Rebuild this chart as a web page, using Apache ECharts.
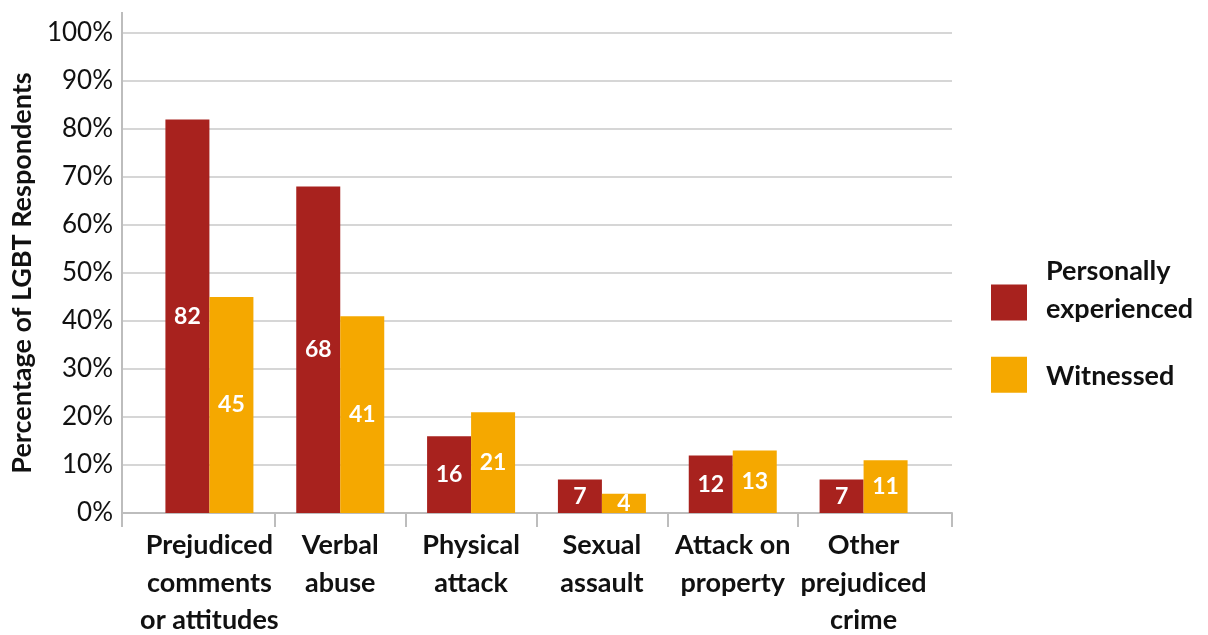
<!DOCTYPE html>
<html>
<head>
<meta charset="utf-8">
<script src="https://cdn.jsdelivr.net/npm/echarts@6/dist/echarts.min.js"></script>
<style>
html,body{margin:0;padding:0;background:#fff;}
#chart{width:1208px;height:635px;}
</style>
</head>
<body>
<div id="chart"></div>
<script>
const categories = ['Prejudiced\ncomments\nor attitudes', 'Verbal\nabuse', 'Physical\nattack', 'Sexual\nassault', 'Attack on\nproperty', 'Other\nprejudiced\ncrime'];
const personallyExperienced = [82, 68, 16, 7, 12, 7];
const witnessed = [45, 41, 21, 4, 13, 11];
const seriesNames = ['Personally\nexperienced', 'Witnessed'];
const yAxisName = 'Percentage of LGBT Respondents';

const FONT = 'Lato';
const AXIS_GRAY = '#bdbdbd';
// outer plot frame (axis lines, gridlines) and inner band area for categories
const outer = { left: 122, right: 256, top: 33, bottom: 122, outerBoundsMode: 'none', containLabel: false };
const inner = { left: 144, right: 279, top: 33, bottom: 122, outerBoundsMode: 'none', containLabel: false };
const W = 1208, H = 635;

const chart = echarts.init(document.getElementById('chart'));
const labelStyle = {
  show: true, position: 'inside', color: '#fff', fontFamily: FONT,
  fontWeight: 'bold', fontSize: 23
};
const legendRich = {
  a: { fontFamily: FONT, fontWeight: 'bold', fontSize: 27, color: '#111', lineHeight: 37.5 },
  s: { fontSize: 1, lineHeight: 24 },
  t: { fontSize: 1, lineHeight: 4 }
};
chart.setOption({
  animation: false,
  textStyle: { fontFamily: FONT },
  grid: [outer, inner],
  legend: {
    orient: 'vertical', left: 991, top: 253, padding: 0,
    itemWidth: 36, itemHeight: 36, itemGap: 2,
    icon: 'rect',
    formatter: function (name) {
      const lines = name.split('\n').map(function (l) { return '{a|' + l + '}'; });
      if (lines.length > 1) lines.push('{s| }');
      else lines.unshift('{t| }');
      return lines.join('\n');
    },
    textStyle: { fontFamily: FONT, fontWeight: 'bold', fontSize: 27, color: '#111', lineHeight: 37.5, padding: [0, 0, 0, 14], rich: legendRich },
    data: seriesNames
  },
  xAxis: [
    {
      gridIndex: 0, type: 'category', data: [''], boundaryGap: true,
      axisLine: { lineStyle: { color: AXIS_GRAY, width: 2 } },
      axisTick: { show: true, length: 14, lineStyle: { color: AXIS_GRAY, width: 2 } },
      axisLabel: { show: false }
    },
    {
      gridIndex: 1, type: 'category', data: categories,
      axisLine: { show: false },
      axisTick: { show: true, length: 14, interval: function (i) { return i !== 0; }, lineStyle: { color: AXIS_GRAY, width: 2 } },
      axisLabel: { interval: 0, color: '#111', fontFamily: FONT, fontWeight: 'bold', fontSize: 27, lineHeight: 37.5, margin: 14 }
    }
  ],
  yAxis: [
    {
      gridIndex: 0, type: 'value', min: 0, max: 100, interval: 10,
      name: yAxisName, nameLocation: 'middle', nameGap: 83, nameRotate: 90,
      nameTextStyle: { fontFamily: FONT, fontWeight: 'bold', fontSize: 27, color: '#111' },
      axisLine: { show: true, lineStyle: { color: AXIS_GRAY, width: 2 } },
      axisTick: { show: false },
      axisLabel: { formatter: '{value}%', color: '#111', fontFamily: FONT, fontSize: 26, margin: 9 },
      splitLine: { lineStyle: { color: '#c8c8c8', width: 1.5 } }
    },
    { gridIndex: 1, type: 'value', min: 0, max: 100, interval: 10, show: false }
  ],
  graphic: [
    { type: 'line', z: 100, shape: { x1: outer.left, y1: 12, x2: outer.left, y2: outer.top },
      style: { stroke: AXIS_GRAY, lineWidth: 2 } },
    // hide the band-end tick the category axis always adds at its right end
    { type: 'rect', z: 100, shape: { x: W - inner.right - 3, y: H - inner.bottom + 1, width: 6, height: 17 },
      style: { fill: '#fff' } }
  ],
  series: [
    { name: seriesNames[0], type: 'bar', xAxisIndex: 1, yAxisIndex: 1, data: personallyExperienced, barWidth: 44, barGap: '0%',
      itemStyle: { color: '#A8221E' }, label: labelStyle },
    { name: seriesNames[1], type: 'bar', xAxisIndex: 1, yAxisIndex: 1, data: witnessed, barWidth: 44, barGap: '0%',
      itemStyle: { color: '#F5A800' }, label: labelStyle }
  ]
});
</script>
</body>
</html>
